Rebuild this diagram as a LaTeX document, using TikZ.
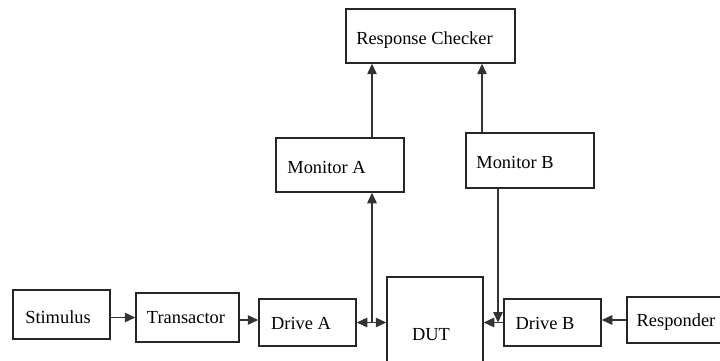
\documentclass[tikz,border=0pt]{standalone}
\usepackage{fontspec}
\setmainfont{Liberation Serif}
\usetikzlibrary{arrows.meta}
\begin{document}
\begin{tikzpicture}[x=1pt,y=-1pt,
  box/.style={draw=black!85,line width=1.5pt,fill=white,inner sep=0pt},
  lbl/.style={inner sep=0pt,font=\fontsize{18.4}{20}\selectfont},
  conn/.style={draw=black!80,line width=1.4pt},
  tip/.tip={Triangle[length=10.5pt,width=9.5pt]},
  arr/.style={conn,-tip},
  darr/.style={conn,tip-tip}]
\clip (0,0) rectangle (720,361);
\fill[white] (0,0) rectangle (720,361);

% blocks
\node[box,minimum width=97pt,minimum height=49pt] (stim) at (61.5,314.5) {};
\node[box,minimum width=103pt,minimum height=49pt] (trans) at (187.5,317.5) {};
\node[box,minimum width=97pt,minimum height=47pt] (driveA) at (307.5,322.5) {};
\node[box,minimum width=96pt,minimum height=100pt] (dut) at (435,327) {};
\node[box,minimum width=97pt,minimum height=47pt] (driveB) at (552.5,322.5) {};
\node[box,minimum width=110pt,minimum height=46pt] (resp) at (682,320) {};
\node[box,minimum width=128pt,minimum height=54pt] (monA) at (340,165) {};
\node[box,minimum width=128pt,minimum height=55pt] (monB) at (530,160.5) {};
\node[box,minimum width=169pt,minimum height=54pt] (rc) at (430.5,36) {};

% labels
\node[lbl] (stimT) at (58,317) {Stimulus};
\node[lbl] (transT) at (186,318) {Transactor};
\node[lbl] (driveAT) at (301,323) {Drive A};
\node[lbl] (dutT) at (431,335) {DUT};
\node[lbl] (driveBT) at (545,323) {Drive B};
\node[lbl] (respT) at (676,322) {Responder};
\node[lbl] (monAT) at (326.5,167) {Monitor A};
\node[lbl] (monBT) at (515,162) {Monitor B};
\node[lbl] (rcT) at (424.5,40) {Response Checker};

% tap points on the DUT links
\coordinate (jA) at (372,322.5);
\coordinate (jB) at (498,322.5);
\coordinate (jC) at (482,100);

% stimulus path
\draw[arr] (stim.east |- trans.west) -- (trans.west);
\draw[arr] (trans.east |- 0,320) -- (driveA.west |- 0,320);
\draw[darr] (driveA.east) -- (dut.west |- driveA.east);
\draw[arr] (jA) -- (jA |- monA.south);

% response path
\draw[arr] (resp.west) -- (driveB.east |- resp.west);
\draw[arr] (driveB.west) -- (dut.east |- driveB.west);
\draw[arr] (jB |- monB.south) -- (jB);

% monitors to checker
\draw[arr] (jA |- monA.north) -- (jA |- rc.south);
\draw[arr] (jC |- monB.north) -- (jC |- rc.south);
\end{tikzpicture}
\end{document}
